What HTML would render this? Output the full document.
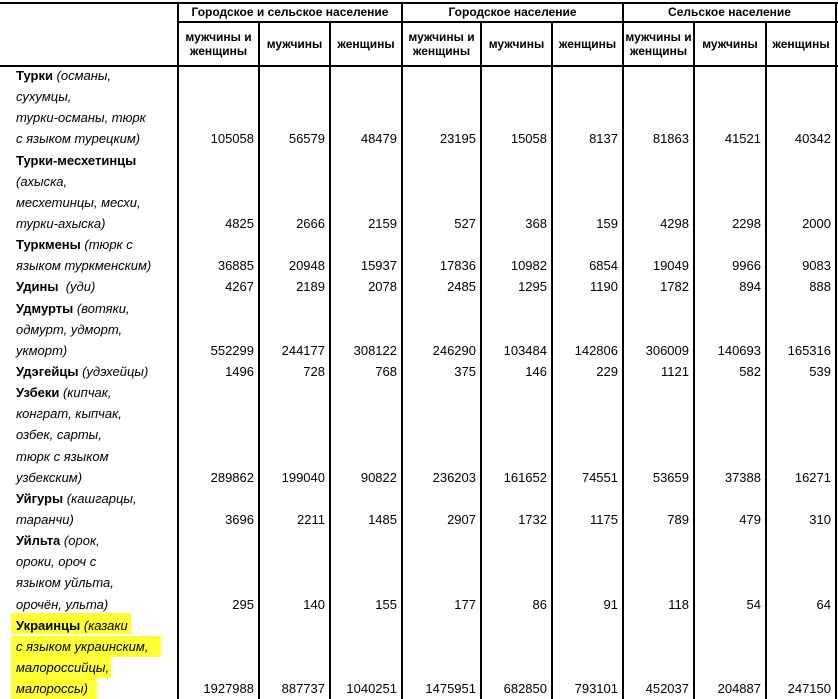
<!DOCTYPE html>
<html><head><meta charset="utf-8"><style>
html,body{margin:0;padding:0;background:#fff;}
body{width:838px;height:699px;position:relative;overflow:hidden;font-family:"Liberation Sans",Arial,sans-serif;color:#000;}
.l{position:absolute;background:#000;}
.h{position:absolute;font-weight:bold;font-size:12px;text-align:center;line-height:14px;}
.t{position:absolute;left:16px;font-size:13px;white-space:nowrap;line-height:16px;}
.t i{font-style:italic;}
.n{position:absolute;font-size:13px;text-align:right;line-height:16px;}
.hl{position:absolute;background:#ffff33;}
</style></head><body>
<div class="hl" style="left:11px;top:613px;width:120px;height:21px"></div>
<div class="hl" style="left:11px;top:636px;width:150px;height:21px"></div>
<div class="hl" style="left:11px;top:657px;width:100px;height:21px"></div>
<div class="hl" style="left:11px;top:678px;width:86px;height:21px"></div>

<div class="l" style="left:0;top:2px;width:838px;height:2px"></div>
<div class="l" style="left:178px;top:21px;width:660px;height:2px"></div>
<div class="l" style="left:0;top:65px;width:838px;height:2px"></div>
<div class="l" style="left:177px;top:2px;width:2px;height:697px"></div>
<div class="l" style="left:258px;top:21px;width:2px;height:678px"></div>
<div class="l" style="left:329px;top:21px;width:2px;height:678px"></div>
<div class="l" style="left:401px;top:2px;width:2px;height:697px"></div>
<div class="l" style="left:480px;top:21px;width:2px;height:678px"></div>
<div class="l" style="left:551px;top:21px;width:2px;height:678px"></div>
<div class="l" style="left:622px;top:2px;width:2px;height:697px"></div>
<div class="l" style="left:693px;top:21px;width:2px;height:678px"></div>
<div class="l" style="left:765px;top:21px;width:2px;height:678px"></div>
<div class="l" style="left:835px;top:2px;width:2px;height:697px"></div>

<div class="h" style="left:179px;width:222px;top:5px">Городское и сельское население</div>
<div class="h" style="left:403px;width:219px;top:5px">Городское население</div>
<div class="h" style="left:624px;width:211px;top:5px">Сельское население</div>
<div class="h" style="left:179px;width:79px;top:30px">мужчины и<br>женщины</div>
<div class="h" style="left:260px;width:69px;top:37px">мужчины</div>
<div class="h" style="left:331px;width:70px;top:37px">женщины</div>
<div class="h" style="left:403px;width:77px;top:30px">мужчины и<br>женщины</div>
<div class="h" style="left:482px;width:69px;top:37px">мужчины</div>
<div class="h" style="left:553px;width:69px;top:37px">женщины</div>
<div class="h" style="left:624px;width:69px;top:30px">мужчины и<br>женщины</div>
<div class="h" style="left:695px;width:70px;top:37px">мужчины</div>
<div class="h" style="left:767px;width:68px;top:37px">женщины</div>

<div id="rows"></div>
<script>
var lines=["<b>Турки</b> <i>(османы,</i>","<i>сухумцы,</i>","<i>турки-османы, тюрк</i>","<i>с языком турецким)</i>",
"<b>Турки-месхетинцы</b>","<i>(ахыска,</i>","<i>месхетинцы, месхи,</i>","<i>турки-ахыска)</i>",
"<b>Туркмены</b> <i>(тюрк с</i>","<i>языком туркменским)</i>",
"<b>Удины</b>&nbsp; <i>(уди)</i>",
"<b>Удмурты</b> <i>(вотяки,</i>","<i>одмурт, удморт,</i>","<i>укморт)</i>",
"<b>Удэгейцы</b> <i>(удэхейцы)</i>",
"<b>Узбеки</b> <i>(кипчак,</i>","<i>конграт, кыпчак,</i>","<i>озбек, сарты,</i>","<i>тюрк с языком</i>","<i>узбекским)</i>",
"<b>Уйгуры</b> <i>(кашгарцы,</i>","<i>таранчи)</i>",
"<b>Уйльта</b> <i>(орок,</i>","<i>ороки, ороч с</i>","<i>языком уйльта,</i>","<i>орочён, ульта)</i>",
"<b>Украинцы</b> <i>(казаки</i>","<i>с языком украинским,</i>","<i>малороссийцы,</i>","<i>малороссы)</i>"];
var data={3:[105058,56579,48479,23195,15058,8137,81863,41521,40342],
7:[4825,2666,2159,527,368,159,4298,2298,2000],
9:[36885,20948,15937,17836,10982,6854,19049,9966,9083],
10:[4267,2189,2078,2485,1295,1190,1782,894,888],
13:[552299,244177,308122,246290,103484,142806,306009,140693,165316],
14:[1496,728,768,375,146,229,1121,582,539],
19:[289862,199040,90822,236203,161652,74551,53659,37388,16271],
21:[3696,2211,1485,2907,1732,1175,789,479,310],
25:[295,140,155,177,86,91,118,54,64],
29:[1927988,887737,1040251,1475951,682850,793101,452037,204887,247150]};
var rights=[254,325,397,476,547,618,689,761,831];
var h="";
for(var i=0;i<30;i++){var y=Math.round(76+i*21.14-8);
h+='<div class="t" style="top:'+y+'px">'+lines[i]+'</div>';
if(data[i]){for(var j=0;j<9;j++){h+='<div class="n" style="top:'+y+'px;left:'+(rights[j]-100)+'px;width:100px">'+data[i][j]+'</div>';}}}
document.getElementById("rows").innerHTML=h;
</script>
</body></html>
